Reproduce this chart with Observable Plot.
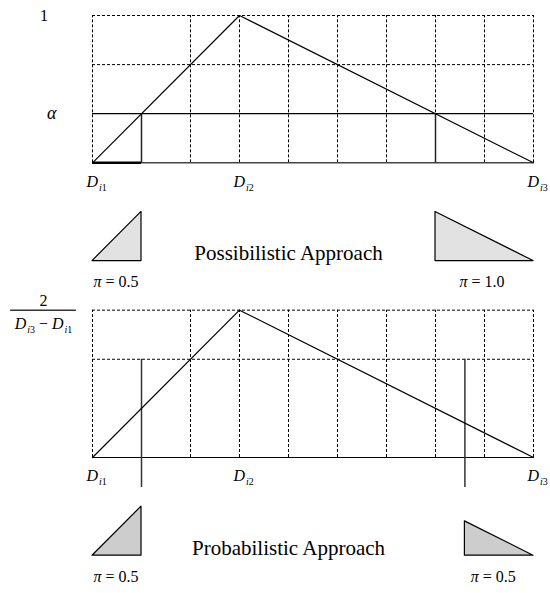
<!DOCTYPE html>
<html>
<head>
<meta charset="utf-8">
<script src="https://cdn.jsdelivr.net/npm/d3@7"></script>
<script src="https://cdn.jsdelivr.net/npm/@observablehq/plot@0.6"></script>
<style>
  html, body { margin: 0; padding: 0; background: #fff; }
  #chart svg { display: block; }
</style>
</head>
<body>
<div id="chart"></div>
<script>
// ---------- data (grid units: one dashed cell = 1) ----------
const breakpoints = [0, 3, 9];                 // D_i1, D_i2, D_i3
const breakpointLabels = ["D_i1", "D_i2", "D_i3"];
const peakHeight = 3;                          // 1  /  2/(D_i3 - D_i1)
const gridColumns = [0, 2, 3, 4, 5, 6, 7, 8, 9];
const gridRows = [2, 3];
const alphaLevel = 1;
const possibilisticCut = [1, 7];
const probabilisticCut = [1, 7.6];
const possibilisticPi = ["π = 0.5", "π = 1.0"];
const probabilisticPi = ["π = 0.5", "π = 0.5"];
const approachTitles = ["Possibilistic Approach", "Probabilistic Approach"];
const yLabelTop = "1";
const yLabelAlpha = "α";
const yLabelDensity = ["2", "D_i3 − D_i1"];

// ---------- helpers ----------
const [a, c, b] = breakpoints;
const f = x => x <= c ? peakHeight * (x - a) / (c - a) : peakHeight * (b - x) / (b - c);

const panels = [
  {base: 6, cut: possibilisticCut, pi: possibilisticPi, title: approachTitles[0], prob: false,
   piX: [0.48, 7.95], fill: "#e2e2e2"},
  {base: 0, cut: probabilisticCut, pi: probabilisticPi, title: approachTitles[1], prob: true,
   piX: [0.48, 8.18], fill: "#cdcdcd"}
];

const dash = "3,2";
const marks = [];

for (const p of panels) {
  const B = p.base;
  // dashed grid
  marks.push(Plot.ruleX(gridColumns, {x: d => d, y1: () => B, y2: () => B + peakHeight,
    stroke: "#000", strokeWidth: 1, strokeDasharray: dash}));
  marks.push(Plot.ruleY(gridRows, {y: d => B + d, x1: () => a, x2: () => b,
    stroke: "#000", strokeWidth: 1, strokeDasharray: dash}));
  // baseline
  marks.push(Plot.ruleY([B], {y: d => d, x1: () => a, x2: () => b,
    stroke: p.prob ? "#000" : "#444", strokeWidth: p.prob ? 1.2 : 1.5}));
  if (!p.prob) {
    marks.push(Plot.ruleY([B], {y: d => d, x1: () => a, x2: () => p.cut[0], stroke: "#000", strokeWidth: 2.5}));
    // alpha cut line
    marks.push(Plot.ruleY([alphaLevel], {y: d => B + d, x1: () => a, x2: () => b, stroke: "#000", strokeWidth: 1.2}));
    marks.push(Plot.ruleX(p.cut, {x: d => d, y1: () => B, y2: () => B + alphaLevel, stroke: "#222", strokeWidth: 1.5}));
  } else {
    marks.push(Plot.ruleX(p.cut, {x: d => d, y1: () => B - 0.61, y2: () => B + 2, stroke: "#333", strokeWidth: 1.5}));
  }
  // triangular function
  marks.push(Plot.line(breakpoints, {x: d => d, y: d => B + f(d), stroke: "#000", strokeWidth: 1.2}));

  // small shaded triangles below the panel
  const T = B - 2;
  marks.push(Plot.areaY([a, p.cut[0]], {x: d => d, y1: () => T, y2: d => T + (d === a ? 0 : f(d)),
    fill: p.fill, stroke: "#000", strokeWidth: 1.2, curve: "linear"}));
  marks.push(Plot.areaY([p.cut[1], b], {x: d => d, y1: () => T, y2: d => T + (d === b ? 0 : f(d)),
    fill: p.fill, stroke: "#000", strokeWidth: 1.2, curve: "linear"}));

  // texts
  marks.push(Plot.text(breakpointLabels, {x: (d, i) => breakpoints[i], y: () => B - 0.38,
    text: d => d, textAnchor: "start", dx: -6, fontSize: 16, className: "rich"}));
  marks.push(Plot.text([p.title], {x: () => (a + b) / 2 - 0.5, y: () => B - 1.84, text: d => d, fontSize: 21}));
  marks.push(Plot.text(p.pi, {x: (d, i) => p.piX[i], y: () => B - 2.43, text: d => d, fontSize: 16, className: "rich"}));
}

// y labels
marks.push(Plot.text([yLabelTop], {x: () => -0.99, y: () => 6 + peakHeight, text: d => d, fontSize: 16}));
marks.push(Plot.text([yLabelAlpha], {x: () => -0.83, y: () => 6 + alphaLevel, text: d => d, fontSize: 18, fontStyle: "italic"}));
marks.push(Plot.text([yLabelDensity[0]], {x: () => -1.0, y: () => peakHeight + 0.18, text: d => d, fontSize: 16}));
marks.push(Plot.ruleY([peakHeight], {y: d => d, x1: () => -1.67, x2: () => -0.33, stroke: "#333", strokeWidth: 1.5}));
marks.push(Plot.text([yLabelDensity[1]], {x: () => -1.0, y: () => peakHeight - 0.27, text: d => d, fontSize: 16, className: "rich"}));

const chart = Plot.plot({
  width: 550,
  height: 593,
  marginLeft: 92,
  marginRight: 17,
  marginTop: 15,
  marginBottom: 136,
  x: {domain: [0, 9], axis: null},
  y: {domain: [0, 9], axis: null},
  style: {fontFamily: "'Liberation Serif', 'Times New Roman', serif", background: "#fff", color: "#000"},
  marks
});

// rich text: italic D with subscript, italic π
d3.select(chart).selectAll("g.rich text").each(function () {
  const s = this.textContent;
  const el = d3.select(this);
  el.text(null);
  let shifted = false;
  s.split(/(D_i\d|π)/).filter(t => t).forEach(part => {
    const m = part.match(/^D_i(\d)$/);
    let first;
    if (m) {
      first = el.append("tspan").attr("font-style", "italic").text("D");
      el.append("tspan").attr("font-size", 10).attr("font-style", "italic").attr("dy", 4).attr("dx", 1).text("i");
      el.append("tspan").attr("font-size", 10).text(m[1]);
    } else if (part === "π") {
      first = el.append("tspan").attr("font-style", "italic").text(part);
    } else {
      first = el.append("tspan").text(part);
    }
    if (shifted) first.attr("dy", -4);
    shifted = !!m;
  });
});

document.getElementById("chart").appendChild(chart);
</script>
</body>
</html>
